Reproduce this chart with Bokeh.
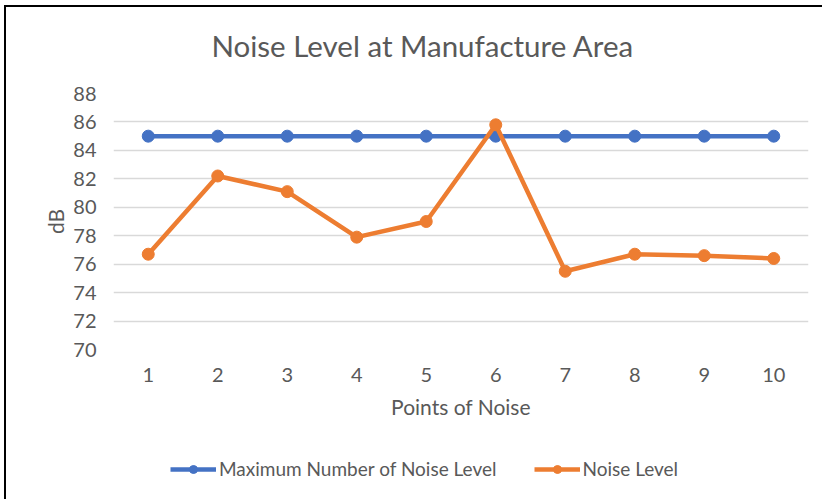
from bokeh.plotting import figure
from bokeh.layouts import column
from bokeh.models import Legend, LegendItem, FixedTicker, Range1d, Label
from bokeh.embed import file_html
from bokeh.resources import INLINE

points = ["1", "2", "3", "4", "5", "6", "7", "8", "9", "10"]
max_level = [85, 85, 85, 85, 85, 85, 85, 85, 85, 85]
noise_level = [76.7, 82.2, 81.1, 77.9, 79.0, 85.8, 75.5, 76.7, 76.6, 76.4]
y_ticks = [70, 72, 74, 76, 78, 80, 82, 84, 86, 88]
series_names = ["Maximum Number of Noise Level", "Noise Level"]
chart_title = "Noise Level at Manufacture Area"

FONT = "Lato"
TXT = "#595959"
BLUE = "#4472C4"
ORANGE = "#ED7D31"
NAN = float("nan")


def strip(height):
    f = figure(width=816, height=height, x_range=Range1d(0, 1), y_range=Range1d(0, 1),
               output_backend="svg", toolbar_location=None,
               x_axis_location=None, y_axis_location=None, min_border=0)
    f.outline_line_color = None
    f.grid.grid_line_color = None
    f.background_fill_color = "white"
    f.border_fill_color = "white"
    return f


# title strip
tf = strip(70)
tf.add_layout(Label(x=0.445, y=0.46, text=chart_title, text_align="center",
                    text_baseline="middle", text_font=FONT, text_font_size="29.5px",
                    text_color=TXT))

# main chart
p = figure(width=816, height=362, x_range=points, y_range=Range1d(70, 88),
           output_backend="svg", toolbar_location=None,
           min_border_left=107, min_border_right=14, min_border_top=16, min_border_bottom=90)

p.outline_line_color = None
p.background_fill_color = "white"
p.border_fill_color = "white"

p.xgrid.grid_line_color = None
p.ygrid.grid_line_color = "#D9D9D9"
p.ygrid.grid_line_width = 1.5
p.yaxis.ticker = FixedTicker(ticks=y_ticks)

for ax in (p.xaxis, p.yaxis):
    ax.axis_line_color = None
    ax.major_tick_line_color = None
    ax.minor_tick_line_color = None
    ax.major_label_text_font = FONT
    ax.major_label_text_color = TXT
    ax.major_label_text_font_size = "20px"
    ax.axis_label_text_font = FONT
    ax.axis_label_text_color = TXT
    ax.axis_label_text_font_size = "21px"
    ax.axis_label_text_font_style = "normal"

p.xaxis.axis_label = "Points of Noise"
p.yaxis.axis_label = "dB"
p.xaxis.major_label_standoff = 12
p.yaxis.major_label_standoff = 11
p.xaxis.axis_label_standoff = 9
p.yaxis.axis_label_standoff = 2

p.line(points, max_level, line_color=BLUE, line_width=4.5)
p.scatter(points, max_level, size=12, fill_color=BLUE, line_color=BLUE)
p.line(points, noise_level, line_color=ORANGE, line_width=4.5)
p.scatter(points, noise_level, size=12, fill_color=ORANGE, line_color=ORANGE)

# legend strip below the plot (swatch renderers hold no visible data)
lf = strip(60)
rl1 = lf.line([NAN], [NAN], line_color=BLUE, line_width=4.5)
rs1 = lf.scatter([NAN], [NAN], size=11, fill_color=BLUE, line_color=BLUE)
rl2 = lf.line([NAN], [NAN], line_color=ORANGE, line_width=4.5)
rs2 = lf.scatter([NAN], [NAN], size=11, fill_color=ORANGE, line_color=ORANGE)

legend = Legend(items=[
    LegendItem(label=series_names[0], renderers=[rl1, rs1]),
    LegendItem(label=series_names[1], renderers=[rl2, rs2]),
], orientation="horizontal", location=(57, 19))
legend.label_text_font = FONT
legend.label_text_color = TXT
legend.label_text_font_size = "19px"
legend.glyph_width = 46
legend.glyph_height = 20
legend.label_standoff = 3
legend.spacing = 37
legend.padding = 0
legend.margin = 0
legend.border_line_color = None
legend.background_fill_alpha = 0
lf.add_layout(legend, "center")

layout = column(tf, p, lf, spacing=0)
layout.styles = {"border-left": "2px solid black", "border-top": "2px solid black",
                 "margin-left": "4px", "margin-top": "5px"}

open("out.html", "w").write(file_html(layout, INLINE))
